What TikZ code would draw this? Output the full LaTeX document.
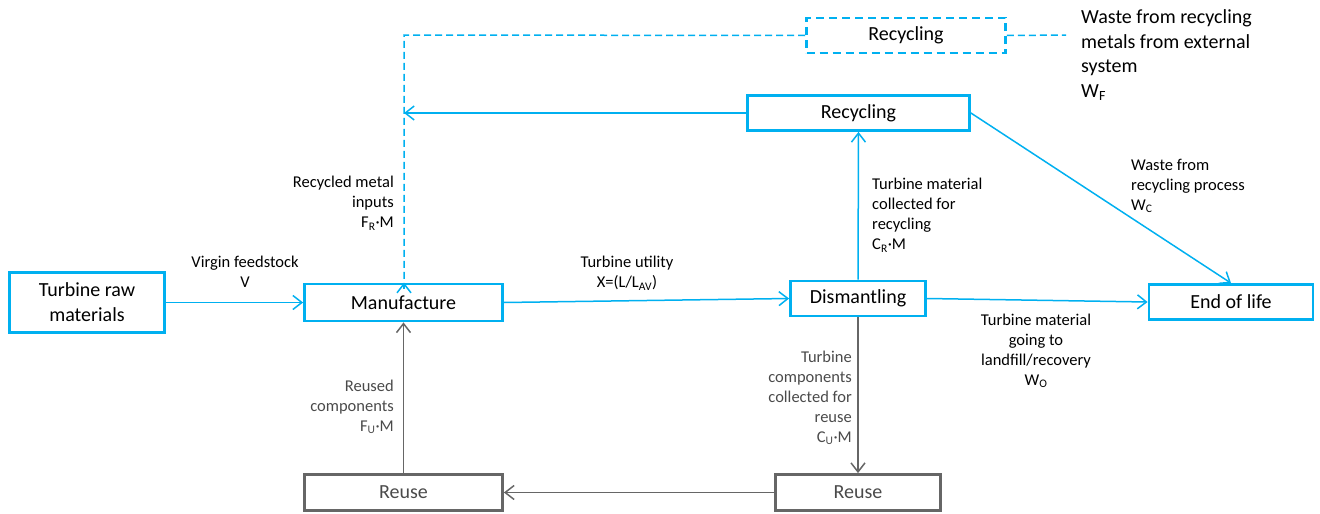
\documentclass[tikz,border=0pt]{standalone}
\usepackage{fontspec}
\setmainfont{Carlito}
\usetikzlibrary{arrows.meta}
\definecolor{cblue}{HTML}{00B0F0}
\definecolor{cgray}{HTML}{666666}
\definecolor{ctext}{HTML}{4A4A4A}
\newcommand{\sbs}[1]{\textsubscript{#1}}
\begin{document}
\begin{tikzpicture}[x=1pt,y=-1pt,
  bx/.style={draw=cblue,line width=2.8pt,inner sep=0pt,align=center,font=\fontsize{20}{25}\selectfont},
  gbx/.style={draw=cgray,line width=2.8pt,inner sep=0pt,align=center,text=ctext,font=\fontsize{20}{25}\selectfont},
  dbx/.style={bx,dash pattern=on 8pt off 5pt},
  conn/.style={draw=cblue,line width=1.5pt,-{Straight Barb[length=9pt,width=14pt]}},
  gconn/.style={draw=cgray,line width=1.5pt,-{Straight Barb[length=9pt,width=14pt]}},
  dconn/.style={draw=cblue,line width=1.5pt,dash pattern=on 7pt off 4pt},
  lbl/.style={inner sep=0pt,font=\fontsize{16.5}{20}\selectfont},
  glbl/.style={lbl,text=ctext}]
\useasboundingbox (0,0) rectangle (1320,514);
% boxes
\node[bx,minimum width=155pt,minimum height=60pt] (raw) at (87,302.5) {Turbine raw\\materials};
\node[bx,minimum width=198pt,minimum height=37pt] (manuf) at (403.5,302.5) {Manufacture};
\node[bx,minimum width=135pt,minimum height=35pt] (dism) at (858,298.5) {Dismantling};
\node[bx,minimum width=164pt,minimum height=35pt] (eol) at (1231,302) {End of life};
\node[bx,minimum width=222pt,minimum height=35pt] (recyc) at (858.5,113) {Recycling};
\node[dbx,minimum width=199pt,minimum height=35pt] (recycd) at (906,35.5) {Recycling};
\node[gbx,minimum width=198pt,minimum height=36pt] (reuseL) at (403.5,492.5) {Reuse};
\node[gbx,minimum width=165pt,minimum height=36pt] (reuseR) at (858,492.5) {Reuse};
% labels
\node[inner sep=0pt,anchor=west,align=left,font=\fontsize{20}{24.5}\selectfont] (wf) at (1081,55)
  {Waste from recycling\\metals from external\\system\\W\sbs{F}};
\node[lbl,anchor=east,align=right] (lrm) at (394,203) {Recycled metal\\inputs\\F\sbs{R}·M};
\node[lbl,align=center] (lvf) at (245,272) {Virgin feedstock\\V};
\node[lbl,align=center] (ltu) at (627,273) {Turbine utility\\X=(L/L\sbs{AV})};
\node[lbl,anchor=west,align=left] (ltm) at (872,215) {Turbine material\\collected for\\recycling\\C\sbs{R}·M};
\node[lbl,anchor=west,align=left] (lwc) at (1131,186) {Waste from\\recycling process\\W\sbs{C}};
\node[lbl,align=center] (lwo) at (1036,351) {Turbine material\\going to\\landfill/recovery\\W\sbs{O}};
\node[glbl,anchor=east,align=right] (lcu) at (852,398) {Turbine\\components\\collected for\\reuse\\C\sbs{U}·M};
\node[glbl,anchor=east,align=right] (lfu) at (394,407) {Reused\\components\\F\sbs{U}·M};
% coordinates
\coordinate (dc) at (404,35);
\coordinate (wfend) at (1066,35);
% connectors
\draw[conn] (raw.east) -- (manuf.west);
\draw[conn] (manuf.east) -- (dism.west);
\draw[conn] (dism.east) -- (eol.west);
\draw[conn] (dism.north) -- (recyc.south);
\draw[conn] (recyc.east) -- (eol.north);
\draw[dconn] (recycd.west) -- (dc) -- (dc |- manuf.north);
\draw[conn] ([yshift=-6pt]dc |- manuf.north) -- (dc |- manuf.north);
\draw[conn] (recyc.west) -- (recyc.west -| dc);
\draw[dconn] (recycd.east) -- (wfend);
\draw[gconn] (dism.south) -- (reuseR.north);
\draw[gconn] (reuseR.west) -- (reuseL.east);
\draw[gconn] (reuseL.north) -- (manuf.south);
\end{tikzpicture}
\end{document}
